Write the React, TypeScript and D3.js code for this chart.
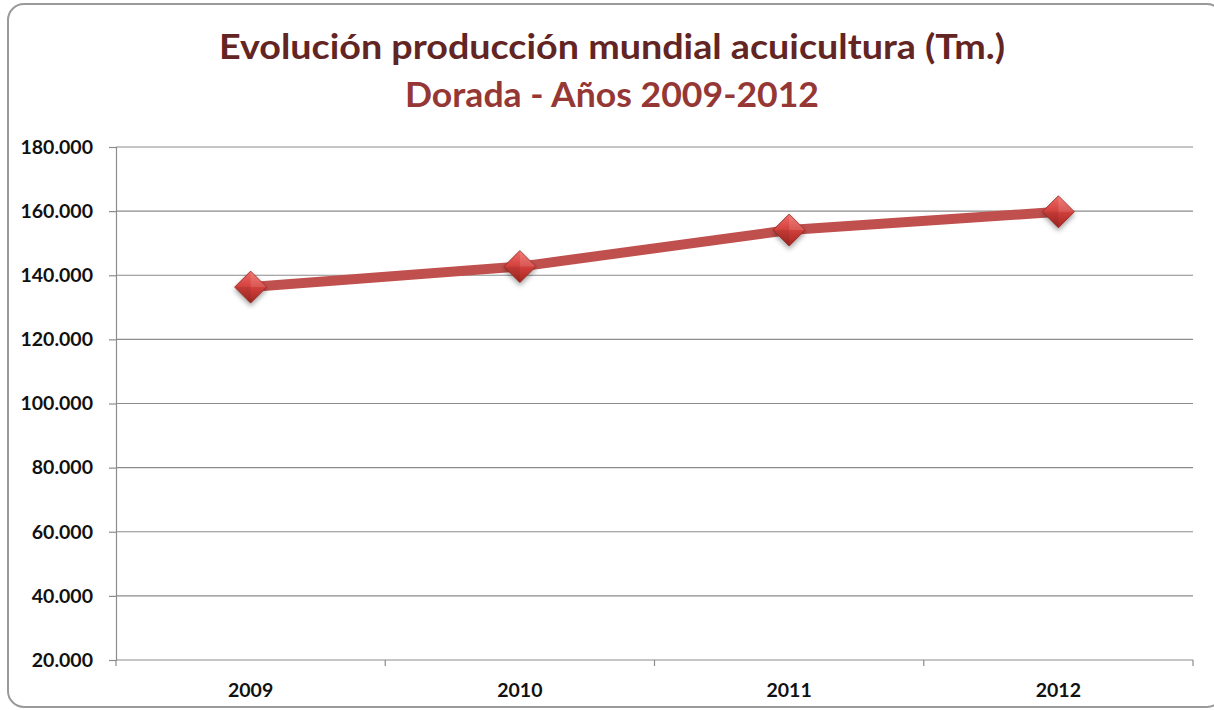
import { FC, useEffect, useRef } from 'react';
import * as d3 from 'd3';

const years = ['2009', '2010', '2011', '2012'];
const production = [136300, 142700, 154100, 159800];
const yTicks = [20000, 40000, 60000, 80000, 100000, 120000, 140000, 160000, 180000];
const titleLine1 = 'Evolución producción mundial acuicultura (Tm.)';
const titleLine2 = 'Dorada - Años 2009-2012';

const W = 1214;
const H = 710;

const App: FC = () => {
  const ref = useRef<SVGSVGElement>(null);

  useEffect(() => {
    const svg = d3.select(ref.current);
    svg.selectAll('*').remove();

    const plot = { left: 116, right: 1193, top: 147, bottom: 660 };
    const font = 'Lato, "Open Sans", sans-serif';

    // defs: marker gradient + shadow
    const defs = svg.append('defs');
    const grad = defs
      .append('linearGradient')
      .attr('id', 'diamondFill')
      .attr('x1', 0)
      .attr('y1', 0)
      .attr('x2', 0)
      .attr('y2', 1);
    grad.append('stop').attr('offset', '0%').attr('stop-color', '#ef6a66');
    grad.append('stop').attr('offset', '50%').attr('stop-color', '#d2403c');
    grad.append('stop').attr('offset', '100%').attr('stop-color', '#a32622');
    const shadow = defs.append('filter').attr('id', 'shadow').attr('x', '-50%').attr('y', '-50%').attr('width', '200%').attr('height', '200%');
    shadow
      .append('feDropShadow')
      .attr('dx', 0)
      .attr('dy', 3)
      .attr('stdDeviation', 2.5)
      .attr('flood-color', '#000')
      .attr('flood-opacity', 0.35);

    // outer frame
    svg
      .append('rect')
      .attr('x', 8)
      .attr('y', 4)
      .attr('width', 1215)
      .attr('height', 703)
      .attr('rx', 16)
      .attr('fill', '#fff')
      .attr('stroke', '#9a9a9a')
      .attr('stroke-width', 2);

    // titles
    svg
      .append('text')
      .attr('x', 612)
      .attr('y', 59)
      .attr('text-anchor', 'middle')
      .attr('font-family', font)
      .attr('font-weight', 700)
      .attr('font-size', 35)
      .attr('fill', '#632523')
      .attr('textLength', 786)
      .attr('lengthAdjust', 'spacingAndGlyphs')
      .text(titleLine1);
    svg
      .append('text')
      .attr('x', 612)
      .attr('y', 107)
      .attr('text-anchor', 'middle')
      .attr('font-family', font)
      .attr('font-weight', 700)
      .attr('font-size', 34)
      .attr('fill', '#953735')
      .attr('textLength', 414)
      .attr('lengthAdjust', 'spacingAndGlyphs')
      .text(titleLine2);

    const x = d3.scaleBand().domain(years).range([plot.left, plot.right]);
    const y = d3.scaleLinear().domain([20000, 180000]).range([plot.bottom, plot.top]);
    const fmt = d3.formatLocale({ decimal: ',', thousands: '.', grouping: [3], currency: ['', ''] }).format(',');

    // horizontal grid
    svg
      .append('g')
      .selectAll('line')
      .data(yTicks.slice(1))
      .join('line')
      .attr('x1', plot.left)
      .attr('x2', plot.right)
      .attr('y1', (d) => y(d))
      .attr('y2', (d) => y(d))
      .attr('stroke', '#8c8c8c')
      .attr('stroke-width', 1.2);

    // y axis
    const yAxis = svg
      .append('g')
      .attr('transform', `translate(${plot.left},0)`)
      .call(d3.axisLeft(y).tickValues(yTicks).tickSize(7).tickPadding(16).tickFormat((d) => fmt(d as number)));
    yAxis.select('.domain').attr('stroke', '#8c8c8c').attr('stroke-width', 1.2);
    yAxis.selectAll('.tick line').attr('stroke', '#8c8c8c').attr('stroke-width', 1.2);
    yAxis
      .selectAll('.tick text')
      .attr('font-family', font)
      .attr('font-weight', 700)
      .attr('font-size', 19.5)
      .attr('fill', '#111');

    // x axis
    const xAxis = svg
      .append('g')
      .attr('transform', `translate(0,${plot.bottom})`)
      .call(d3.axisBottom(x).tickSize(0).tickPadding(23));
    xAxis.select('.domain').remove();
    xAxis
      .selectAll('.tick text')
      .attr('font-family', font)
      .attr('font-weight', 700)
      .attr('font-size', 19.5)
      .attr('fill', '#111');
    svg
      .append('line')
      .attr('x1', plot.left)
      .attr('x2', plot.right)
      .attr('y1', plot.bottom)
      .attr('y2', plot.bottom)
      .attr('stroke', '#8c8c8c')
      .attr('stroke-width', 1.2);
    const bounds = [...years.map((d) => x(d) as number), plot.right];
    svg
      .append('g')
      .selectAll('line')
      .data(bounds)
      .join('line')
      .attr('x1', (d) => d)
      .attr('x2', (d) => d)
      .attr('y1', plot.bottom)
      .attr('y2', plot.bottom + 6)
      .attr('stroke', '#8c8c8c')
      .attr('stroke-width', 1.2);

    const cx = (d: string) => (x(d) as number) + x.bandwidth() / 2;
    const pts = years.map((d, i) => ({ year: d, value: production[i] }));

    // line
    const line = d3
      .line<{ year: string; value: number }>()
      .x((d) => cx(d.year))
      .y((d) => y(d.value));
    svg
      .append('path')
      .datum(pts)
      .attr('fill', 'none')
      .attr('stroke', '#c0504d')
      .attr('stroke-width', 10)
      .attr('stroke-linejoin', 'round')
      .attr('d', line);

    // markers
    const r = 16;
    const mk = svg
      .append('g')
      .selectAll('g')
      .data(pts)
      .join('g')
      .attr('transform', (d) => `translate(${cx(d.year)},${y(d.value)})`)
      .attr('filter', 'url(#shadow)');
    mk.append('path')
      .attr('d', `M0,${-r}L${r},0L0,${r}L${-r},0Z`)
      .attr('fill', 'url(#diamondFill)')
      .attr('stroke', '#8e2420')
      .attr('stroke-width', 0.8);
    mk.append('path')
      .attr('d', `M0,${-r}L${r},0L0,0Z`)
      .attr('fill', '#ffffff')
      .attr('opacity', 0.12);
    mk.append('path')
      .attr('d', `M0,${r}L${-r},0L0,0Z`)
      .attr('fill', '#000')
      .attr('opacity', 0.08);
  }, []);

  return (
    <svg
      ref={ref}
      width={W}
      height={H}
      style={{ position: 'absolute', left: 0, top: 0, background: '#fff' }}
    />
  );
};

export default App;
